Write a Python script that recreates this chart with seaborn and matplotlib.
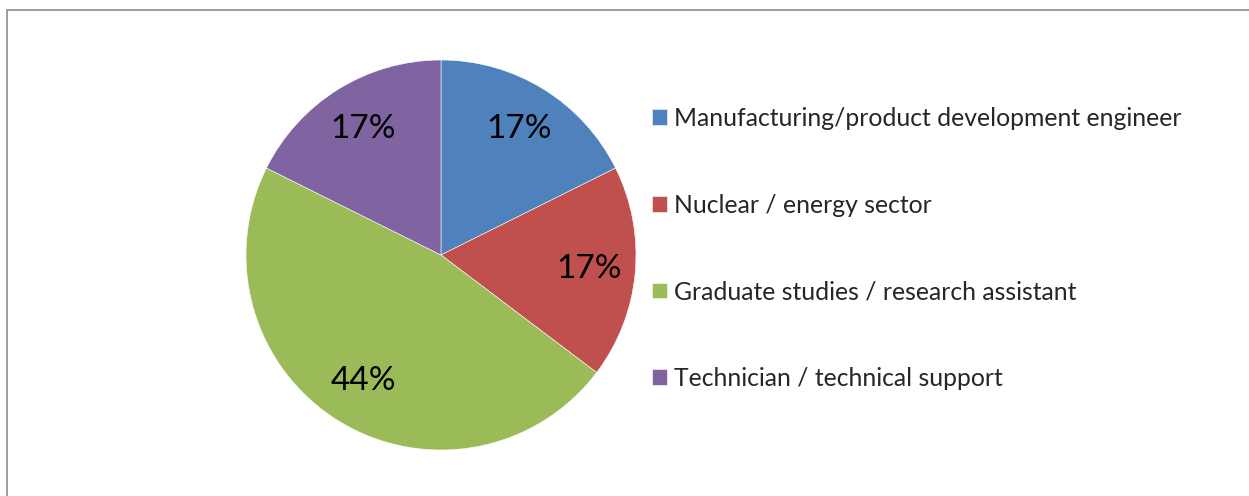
"""Pie chart of graduate career destinations."""

import matplotlib

matplotlib.use("Agg")

import matplotlib.pyplot as plt
import seaborn as sns
from matplotlib.patches import Rectangle

categories = [
    "Manufacturing/product development engineer",
    "Nuclear / energy sector",
    "Graduate studies / research assistant",
    "Technician / technical support",
]
counts = [3, 3, 8, 3]
pct_labels = ["17%", "17%", "44%", "17%"]
colors = ["#4F81BD", "#C0504D", "#9BBB59", "#8064A2"]

sns.set_theme(style="white")
plt.rcParams["font.family"] = ["Lato", "DejaVu Sans"]

W, H = 1249, 496
fig = plt.figure(figsize=(W / 100, H / 100), dpi=100)
fig.patch.set_facecolor("white")

cx, cy, r = 441, 255, 195
ax = fig.add_axes([(cx - r) / W, (H - cy - r) / H, 2 * r / W, 2 * r / H])

wedges, texts = ax.pie(
    counts,
    labels=pct_labels,
    colors=sns.color_palette(colors),
    startangle=90,
    counterclock=False,
    labeldistance=0.76,
    wedgeprops={"edgecolor": "white", "linewidth": 0.4},
    textprops={"fontsize": 24, "color": "black", "ha": "center", "va": "center"},
)
ax.set_xlim(-1, 1)
ax.set_ylim(-1, 1)
ax.set_aspect("equal")

fig.legend(
    wedges,
    categories,
    loc="upper left",
    bbox_to_anchor=(652 / W, 1 - 107 / H),
    frameon=False,
    fontsize=17.8,
    handlelength=0.6,
    handleheight=0.6,
    handletextpad=0.3,
    labelspacing=2.57,
    borderaxespad=0,
    borderpad=0,
)

# outer chart-area border (only left and top visible in the crop)
fig.patches.append(
    Rectangle(
        (6.5 / W, -0.1),
        1.2,
        (H - 9.5) / H + 0.1,
        transform=fig.transFigure,
        fill=False,
        edgecolor="#8c8c8c",
        linewidth=1.2,
    )
)

fig.savefig("out.png", dpi=100)
plt.close(fig)
